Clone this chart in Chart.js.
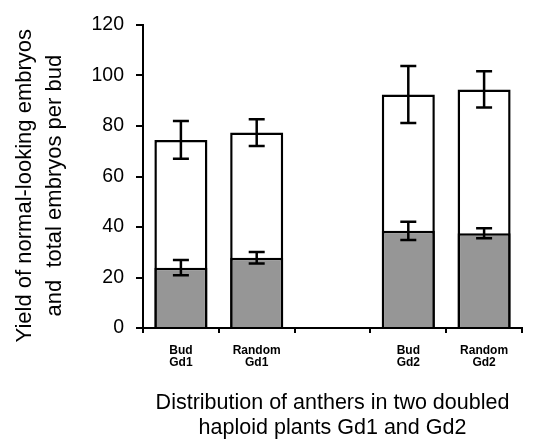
<!DOCTYPE html>
<html>
<head>
<meta charset="utf-8">
<script src="https://cdn.jsdelivr.net/npm/chart.js@4"></script>
<style>
  html, body { margin: 0; padding: 0; background: #fff; }
  #wrap { width: 533px; height: 443px; }
</style>
</head>
<body>
<div id="wrap"><canvas id="chart" width="533" height="443"></canvas></div>
<script>
var categories = [["Bud", "Gd1"], ["Random", "Gd1"], "", ["Bud", "Gd2"], ["Random", "Gd2"]];
var normalValues = [23.9, 27.8, null, 38.5, 37.5];
var normalErrors = [3.0, 2.3, null, 3.6, 2.0];
var totalValues = [74.5, 77.4, null, 92.5, 94.5];
var totalErrors = [7.5, 5.3, null, 11.3, 7.2];
var yTicks = [0, 20, 40, 60, 80, 100, 120];

var fontFamily = "'Liberation Sans', Arial, sans-serif";

// draws the error bars on top of the bars, using the chart's scales
var errorBars = {
  id: "errorBars",
  afterDatasetsDraw: function(chart) {
    var ctx = chart.ctx;
    var y = chart.scales.y;
    var errs = [normalErrors, totalErrors];
    ctx.save();
    ctx.strokeStyle = "#000";
    ctx.lineWidth = 2.5;
    for (var d = 0; d < errs.length; d++) {
      var meta = chart.getDatasetMeta(d);
      var vals = chart.data.datasets[d].data;
      meta.data.forEach(function(bar, i) {
        if (vals[i] == null) return;
        var top = y.getPixelForValue(vals[i] + errs[d][i]);
        var bot = y.getPixelForValue(vals[i] - errs[d][i]);
        var cap = 8;
        ctx.beginPath();
        ctx.moveTo(bar.x, top); ctx.lineTo(bar.x, bot);
        ctx.moveTo(bar.x - cap, top); ctx.lineTo(bar.x + cap, top);
        ctx.moveTo(bar.x - cap, bot); ctx.lineTo(bar.x + cap, bot);
        ctx.stroke();
      });
    }
    ctx.restore();
  }
};

new Chart("chart", {
  type: "bar",
  data: {
    labels: categories,
    datasets: [{
      label: "Normal-looking embryos",
      data: normalValues,
      backgroundColor: "#969696",
      borderColor: "#000",
      borderWidth: 2.5,
      grouped: false,
      barPercentage: 0.7,
      categoryPercentage: 1
    }, {
      label: "Total embryos",
      data: totalValues,
      backgroundColor: "#fff",
      borderColor: "#000",
      borderWidth: 2.5,
      grouped: false,
      barPercentage: 0.7,
      categoryPercentage: 1
    }]
  },
  options: {
    responsive: false,
    animation: false,
    layout: { padding: { top: 25, right: 11, bottom: 0, left: 0 } },
    plugins: {
      legend: { display: false },
      tooltip: { enabled: false }
    },
    scales: {
      x: {
        grid: { drawOnChartArea: false, drawTicks: true, tickLength: 5, color: "#000", lineWidth: 2, offset: true },
        border: { display: true, color: "#000", width: 2 },
        ticks: {
          color: "#000",
          padding: 11,
          maxRotation: 0,
          autoSkip: false,
          font: { family: fontFamily, size: 12, weight: "bold", lineHeight: 1.05 }
        },
        title: {
          display: true,
          text: ["Distribution of anthers in two doubled", "haploid plants Gd1 and Gd2"],
          color: "#000",
          padding: { top: 0, bottom: 2.5 },
          font: { family: fontFamily, size: 21.5, lineHeight: 1.17 }
        },
        afterFit: function(scale) { scale.height = 115; }
      },
      y: {
        min: 0,
        max: 120,
        afterBuildTicks: function(scale) {
          scale.ticks = yTicks.map(function(v) { return { value: v }; });
        },
        grid: { drawOnChartArea: false, drawTicks: true, tickLength: 7, color: "#000", lineWidth: 2 },
        border: { display: true, color: "#000", width: 2 },
        ticks: {
          color: "#000",
          padding: 12,
          font: { family: fontFamily, size: 19.5 }
        },
        title: {
          display: true,
          text: ["Yield of normal-looking embryos   ", "and  total embryos per bud   "],
          color: "#000",
          padding: { top: 10, bottom: 0 },
          font: { family: fontFamily, size: 22, lineHeight: 1.36 }
        },
        afterFit: function(scale) { scale.width = 143; }
      }
    }
  },
  plugins: [errorBars]
});
</script>
</body>
</html>
